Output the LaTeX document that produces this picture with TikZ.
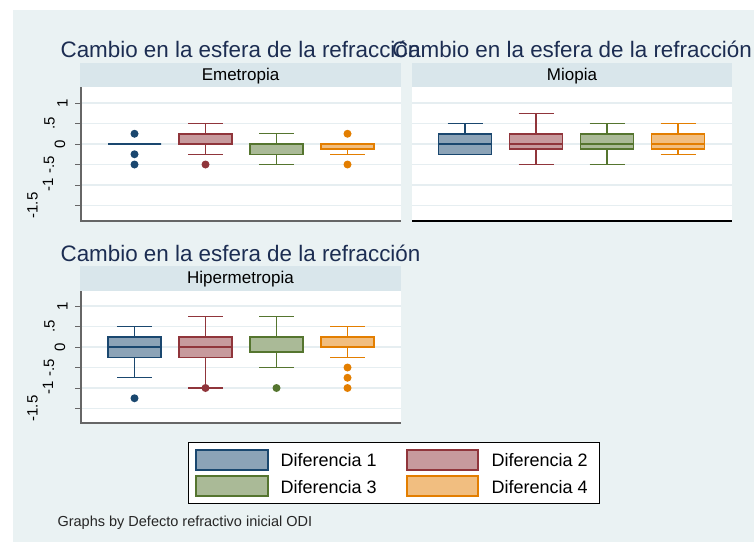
\documentclass[tikz,border=0pt]{standalone}
\usepackage{fontspec}
\setmainfont{Liberation Sans}
\usepackage{tikz}
\usepackage{xcolor}
\definecolor{bgc}{RGB}{234,242,243}
\definecolor{stripc}{RGB}{217,230,235}
\definecolor{gridc}{RGB}{230,238,241}
\definecolor{ttlc}{RGB}{28,45,82}
\definecolor{dnavy}{RGB}{26,71,111}
\definecolor{dmaroon}{RGB}{144,53,59}
\definecolor{dgreen}{RGB}{85,117,47}
\definecolor{dorange}{RGB}{227,126,0}

% color, x, zero line, lower whisker, q1, median, q3, upper whisker
\newcommand{\bxplot}[8]{%
 \draw[#1,whisk] (#2-17.5,{#3-41*(#8)}) -- (#2+17.5,{#3-41*(#8)});
 \draw[#1,whisk] (#2,{#3-41*(#8)}) -- (#2,{#3-41*(#7)});
 \draw[#1,whisk] (#2,{#3-41*(#5)}) -- (#2,{#3-41*(#4)});
 \draw[#1,whisk] (#2-17.5,{#3-41*(#4)}) -- (#2+17.5,{#3-41*(#4)});
 \filldraw[draw=#1,fill=#1!50!white,boxln] (#2-26.5,{#3-41*(#5)}) rectangle (#2+26.5,{#3-41*(#7)});
 \draw[#1,boxln] (#2-26.5,{#3-41*(#6)}) -- (#2+26.5,{#3-41*(#6)});
}
\newcommand{\outl}[4]{\path[fill=#1] (#2,{#3-41*(#4)}) circle (4);}

\begin{document}
\begin{tikzpicture}[x=1pt,y=-1pt,
  whisk/.style={line width=1.2pt},
  boxln/.style={line width=1.5pt},
  gridln/.style={draw=gridc,line width=1.5pt},
  ttl/.style={anchor=base,text=ttlc,font=\fontsize{22.4}{24}\selectfont},
  striplab/.style={anchor=base,font=\fontsize{17}{19}\selectfont},
  ticklab/.style={rotate=90,inner sep=0pt,font=\fontsize{15}{16}\selectfont},
  leglab/.style={anchor=base west,font=\fontsize{18}{20}\selectfont}]
\useasboundingbox (0,0) rectangle (754,543);
\path[fill=bgc] (13,10) rectangle (754,542);

% panels
\path[fill=stripc] (80,63) rectangle (401,87);
\path[fill=stripc] (412,63) rectangle (732,87);
\path[fill=stripc] (80,266) rectangle (401,291);
\path[fill=white] (81,87) rectangle (401,221);
\path[fill=white] (412,87) rectangle (732,221);
\path[fill=white] (81,291) rectangle (401,423);

\draw[gridln] (81,103) -- (401,103);  \draw[gridln] (81,123.5) -- (401,123.5);
\draw[gridln] (81,144) -- (401,144);  \draw[gridln] (81,164.5) -- (401,164.5);
\draw[gridln] (81,185) -- (401,185);  \draw[gridln] (81,205.5) -- (401,205.5);
\draw[gridln] (412,103) -- (732,103);  \draw[gridln] (412,123.5) -- (732,123.5);
\draw[gridln] (412,144) -- (732,144);  \draw[gridln] (412,164.5) -- (732,164.5);
\draw[gridln] (412,185) -- (732,185);  \draw[gridln] (412,205.5) -- (732,205.5);
\draw[gridln] (81,306) -- (401,306);  \draw[gridln] (81,326.5) -- (401,326.5);
\draw[gridln] (81,347) -- (401,347);  \draw[gridln] (81,367.5) -- (401,367.5);
\draw[gridln] (81,388) -- (401,388);  \draw[gridln] (81,408.5) -- (401,408.5);

\draw[black!60,line width=1.2pt] (81,87) -- (81,221) -- (401,221);
\draw[black,line width=1.2pt] (412,221) -- (732,221);
\draw[black!60,line width=1.2pt] (81,291) -- (81,423) -- (401,423);
\draw[black!60,line width=1pt] (75,103) -- (81,103)  (75,123.5) -- (81,123.5) (75,144) -- (81,144)
  (75,164.5) -- (81,164.5) (75,185) -- (81,185) (75,205.5) -- (81,205.5);
\draw[black!60,line width=1pt] (75,306) -- (81,306)  (75,326.5) -- (81,326.5) (75,347) -- (81,347)
  (75,367.5) -- (81,367.5) (75,388) -- (81,388) (75,408.5) -- (81,408.5);

\node[ticklab] (ta1) at (62.5,103) {1};
\node[ticklab] (ta2) at (49.5,123.5) {.5};
\node[ticklab] (ta3) at (60,144) {0};
\node[ticklab] (ta4) at (49,164.5) {-.5};
\node[ticklab] (ta5) at (48,185) {-1};
\node[ticklab] (ta6) at (32.5,205.5) {-1.5};
\node[ticklab] (tb1) at (62.5,306) {1};
\node[ticklab] (tb2) at (49.5,326.5) {.5};
\node[ticklab] (tb3) at (60,347) {0};
\node[ticklab] (tb4) at (49,367.5) {-.5};
\node[ticklab] (tb5) at (48,388) {-1};
\node[ticklab] (tb6) at (32.5,408.5) {-1.5};

% Emetropia
\bxplot{dnavy}{134.5}{144}{0}{0}{0}{0}{0}
\outl{dnavy}{134.5}{144}{0.25} \outl{dnavy}{134.5}{144}{-0.25} \outl{dnavy}{134.5}{144}{-0.5}
\bxplot{dmaroon}{205.5}{144}{-0.25}{0}{0}{0.25}{0.5}
\outl{dmaroon}{205.5}{144}{-0.5}
\bxplot{dgreen}{276.5}{144}{-0.5}{-0.25}{0}{0}{0.25}
\bxplot{dorange}{347.5}{144}{-0.25}{-0.125}{0}{0}{0}
\outl{dorange}{347.5}{144}{0.25} \outl{dorange}{347.5}{144}{-0.5}

% Miopia
\bxplot{dnavy}{465}{144}{-0.25}{-0.25}{0}{0.25}{0.5}
\bxplot{dmaroon}{536}{144}{-0.5}{-0.125}{0}{0.25}{0.75}
\bxplot{dgreen}{607}{144}{-0.5}{-0.125}{0}{0.25}{0.5}
\bxplot{dorange}{678}{144}{-0.25}{-0.125}{0}{0.25}{0.5}

% Hipermetropia
\bxplot{dnavy}{134.5}{347}{-0.75}{-0.25}{0}{0.25}{0.5}
\outl{dnavy}{134.5}{347}{-1.25}
\bxplot{dmaroon}{205.5}{347}{-1}{-0.25}{0}{0.25}{0.75}
\outl{dmaroon}{205.5}{347}{-1}
\bxplot{dgreen}{276.5}{347}{-0.5}{-0.125}{0.25}{0.25}{0.75}
\outl{dgreen}{276.5}{347}{-1}
\bxplot{dorange}{347.5}{347}{-0.25}{0}{0}{0.25}{0.5}
\outl{dorange}{347.5}{347}{-0.5} \outl{dorange}{347.5}{347}{-0.75} \outl{dorange}{347.5}{347}{-1}

\node[ttl] (t1) at (240.5,57) {Cambio en la esfera de la refracción};
\node[ttl] (t2) at (572,57) {Cambio en la esfera de la refracción};
\node[ttl] (t3) at (240.5,261) {Cambio en la esfera de la refracción};
\node[striplab] (s1) at (240.5,80) {Emetropia};
\node[striplab] (s2) at (572,80) {Miopia};
\node[striplab] (s3) at (240.5,283) {Hipermetropia};

% legend
\draw[fill=white,line width=0.8pt] (188,442) rectangle (599,503);
\filldraw[draw=dnavy,fill=dnavy!50!white,boxln] (196,450) rectangle (268,470);
\filldraw[draw=dmaroon,fill=dmaroon!50!white,boxln] (407,450) rectangle (478,470);
\filldraw[draw=dgreen,fill=dgreen!50!white,boxln] (196,476) rectangle (268,496);
\filldraw[draw=dorange,fill=dorange!50!white,boxln] (407,476) rectangle (478,496);
\node[leglab] (l1) at (277,466.5) {Diferencia 1};
\node[leglab] (l2) at (488,466.5) {Diferencia 2};
\node[leglab] (l3) at (277,493) {Diferencia 3};
\node[leglab] (l4) at (488,493) {Diferencia 4};

\node[anchor=base west,text=black!85,font=\fontsize{14.5}{16}\selectfont] (note) at (54,526) {Graphs by Defecto refractivo inicial ODI};
\end{tikzpicture}
\end{document}
